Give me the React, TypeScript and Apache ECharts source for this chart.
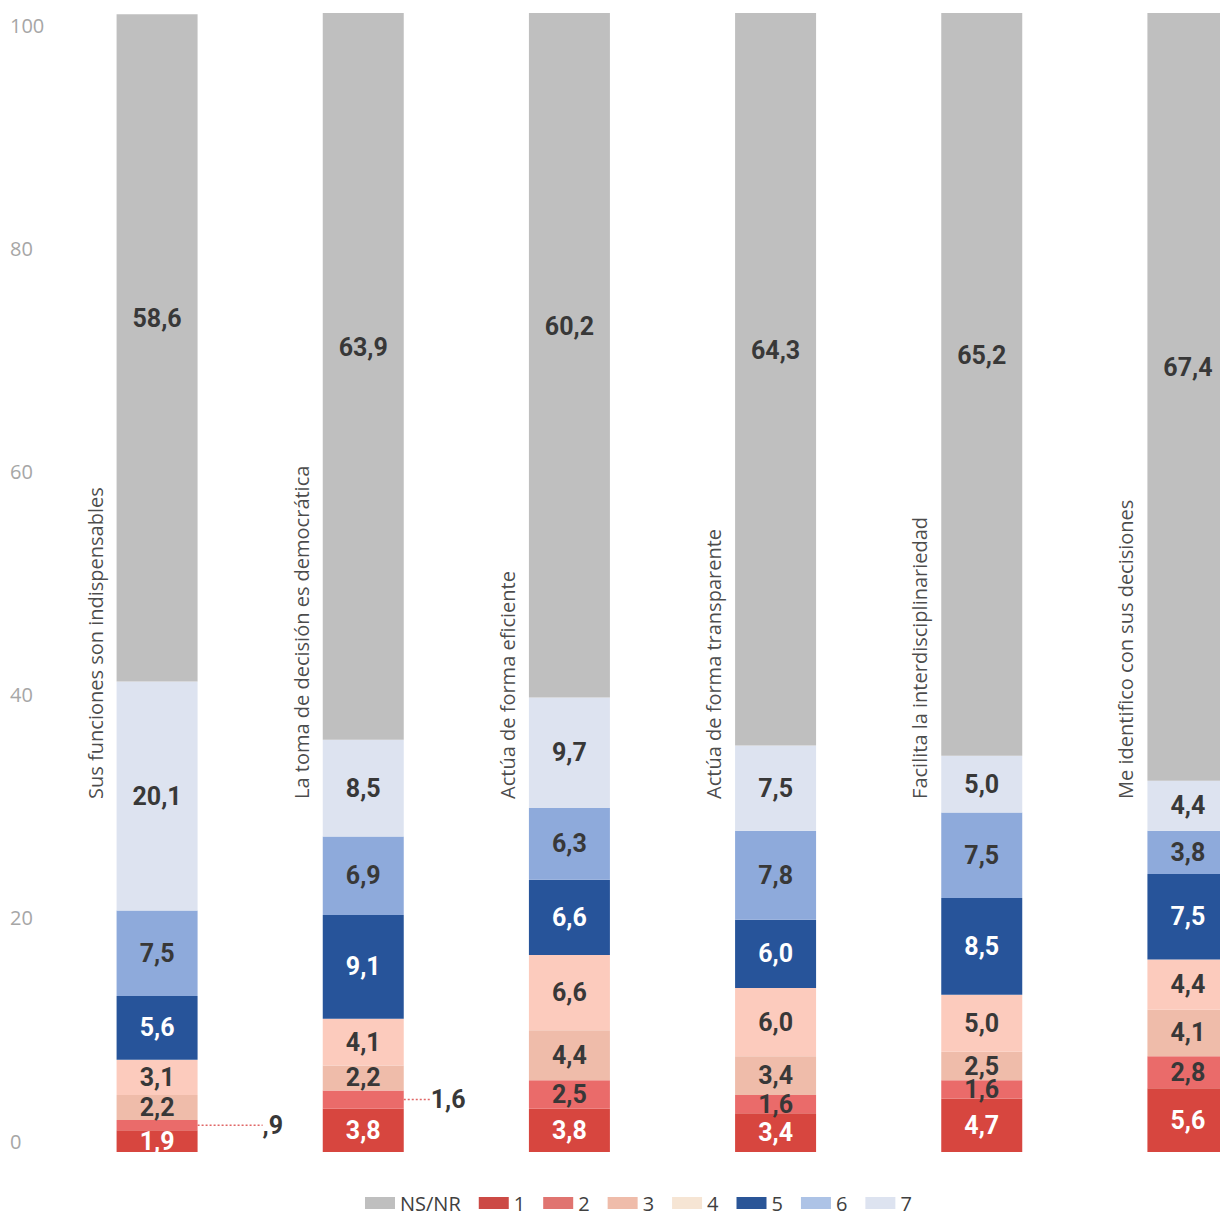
import React, { useEffect, useRef } from "react";
import * as echarts from "echarts";

const categories = [
  "Sus funciones son indispensables",
  "La toma de decisión es democrática",
  "Actúa de forma eficiente",
  "Actúa de forma transparente",
  "Facilita la interdisciplinariedad",
  "Me identifico con sus decisiones",
];
const seriesNames = ["1", "2", "3", "4", "5", "6", "7", "NS/NR"];
const s1 = [1.9, 3.8, 3.8, 3.4, 4.7, 5.6];
const s2 = [0.9, 1.6, 2.5, 1.6, 1.6, 2.8];
const s3 = [2.2, 2.2, 4.4, 3.4, 2.5, 4.1];
const s4 = [3.1, 4.1, 6.6, 6.0, 5.0, 4.4];
const s5 = [5.6, 9.1, 6.6, 6.0, 8.5, 7.5];
const s6 = [7.5, 6.9, 6.3, 7.8, 7.5, 3.8];
const s7 = [20.1, 8.5, 9.7, 7.5, 5.0, 4.4];
const nsnr = [58.6, 63.9, 60.2, 64.3, 65.2, 67.4];
const yTicks = [0, 20, 40, 60, 80, 100];
const legendOrder = ["NS/NR", "1", "2", "3", "4", "5", "6", "7"];

// styles
const barColors = ["#d7463f", "#ea6b6a", "#efbcaa", "#fccbbd", "#27549a", "#8eaadb", "#dde3f0", "#bfbfbf"];
const legendColors: Record<string, string> = {
  "NS/NR": "#bfbfbf", "1": "#cc4a45", "2": "#e07470", "3": "#efbcaa", "4": "#f6e5d4",
  "5": "#2a5597", "6": "#adc3e6", "7": "#dde3f0",
};
const labelColors = ["#ffffff", "#383838", "#383838", "#383838", "#ffffff", "#383838", "#383838", "#383838"];
const outsideShift: Record<number, number> = { 0: 60, 1: 22 };
const CAT_LABEL_VALUE = 31;

const fmt = (v: number) => {
  const s = v.toFixed(1).replace(".", ",");
  return v < 1 ? s.replace(/^0/, "") : s;
};

export default function App() {
  const ref = useRef<HTMLDivElement>(null);
  useEffect(() => {
    if (!ref.current) return;
    const chart = echarts.init(ref.current, null, { renderer: "svg" });
    const allData = [s1, s2, s3, s4, s5, s6, s7, nsnr];
    const labelFont = {
      fontFamily: "Roboto",
      fontWeight: "bold" as const,
      fontSize: 25,
    };
    const barSeries = allData.map((arr, si) => ({
      name: seriesNames[si],
      type: "bar",
      stack: "total",
      xAxisIndex: 1,
      yAxisIndex: 1,
      barWidth: 81,
      itemStyle: { color: barColors[si] },
      label: {
        show: true,
        position: "inside",
        color: labelColors[si],
        ...labelFont,
        formatter: (p: any) => fmt(p.value),
        offset: si === 7 ? [0, -29] : [0, 0],
      },
      labelLayout:
        si === 1
          ? (params: any) =>
              outsideShift[params.dataIndex] !== undefined ? { dx: outsideShift[params.dataIndex] } : {}
          : undefined,
      data: arr.map((v, i) =>
        si === 1 && outsideShift[i] !== undefined
          ? {
              value: v,
              label: { position: "right", color: "#383838" },
              labelLine: {
                show: true,
                lineStyle: { color: "#e06666", type: [2, 2], width: 1.5 },
              },
            }
          : v
      ),
    }));

    const catLabelSeries = {
      name: "cat",
      type: "scatter",
      xAxisIndex: 1,
      yAxisIndex: 1,
      symbolSize: 0,
      silent: true,
      label: {
        show: true,
        position: "inside",
        rotate: 90,
        align: "left",
        verticalAlign: "middle",
        offset: [0, -62],
        color: "#1a1a1a",
        fontFamily: "Open Sans",
        fontSize: 20,
        formatter: (p: any) => categories[p.dataIndex],
      },
      data: categories.map((c) => [c, CAT_LABEL_VALUE]),
    };

    chart.setOption({
      animation: false,
      backgroundColor: "#ffffff",
      legend: {
        data: legendOrder.map((n) => ({ name: n, itemStyle: { color: legendColors[n] } })),
        left: 360,
        top: 1187,
        itemWidth: 30,
        itemHeight: 12,
        itemGap: 18,
        icon: "rect",
        textStyle: { fontFamily: "Open Sans", fontSize: 20, lineHeight: 22, color: "#404040" },
      },
      grid: [
        { left: 54, right: 0, top: 25, bottom: 74 },
        { left: 54, right: 0, top: 13, bottom: 63 },
      ],
      xAxis: [
        { type: "category", gridIndex: 0, data: categories, show: false },
        {
          type: "category",
          gridIndex: 1,
          data: categories,
          axisLine: { show: false },
          axisTick: { show: false },
          axisLabel: { show: false },
        },
      ],
      yAxis: [
        {
          type: "value",
          gridIndex: 0,
          min: 0,
          max: 100,
          interval: 20,
          axisLine: { show: false },
          axisTick: { show: false },
          splitLine: { show: false },
          axisLabel: {
            align: "left",
            margin: 44,
            color: "#a6a6a6",
            fontFamily: "Open Sans",
            fontSize: 20,
            formatter: (v: number) => (yTicks.includes(v) ? String(v) : ""),
          },
        },
        {
          type: "value",
          gridIndex: 1,
          min: 0,
          max: 100,
          interval: 20,
          show: false,
          splitLine: { show: false },
        },
      ],
      series: [...barSeries, catLabelSeries],
    });
    return () => chart.dispose();
  }, []);
  return (
    <div
      style={{
        position: "fixed",
        left: 0,
        top: 0,
        width: 1220,
        height: 1215,
        overflow: "hidden",
        background: "#fff",
      }}
    >
      <div ref={ref} style={{ width: 1291, height: 1215 }} />
    </div>
  );
}
